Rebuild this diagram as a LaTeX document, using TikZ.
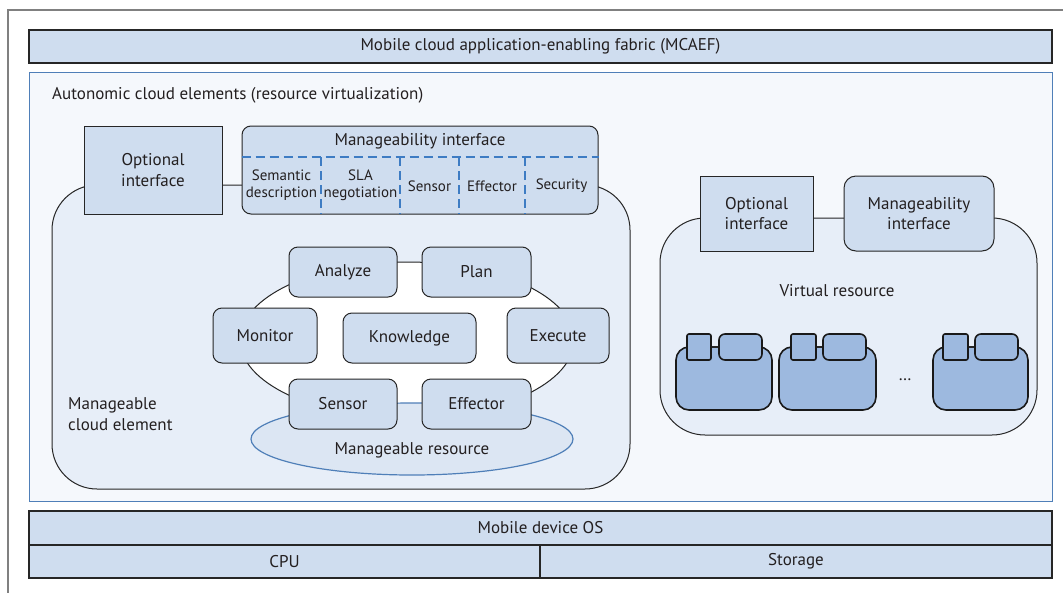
\documentclass[tikz,border=0pt]{standalone}
\usepackage{fontspec}
\setmainfont{PT Sans}
\usetikzlibrary{shapes.geometric}
\definecolor{boxblue}{HTML}{CFDDEF}
\definecolor{panelblue}{HTML}{E7EEF8}
\definecolor{bgblue}{HTML}{F5F8FC}
\definecolor{vmblue}{HTML}{9DB9DF}
\definecolor{dashblue}{HTML}{3E7CC3}
\definecolor{edgeblue}{HTML}{4F7FB8}
\definecolor{resblue}{HTML}{DCE6F3}
\definecolor{txt}{HTML}{231F20}
\tikzset{
  lbl/.style={font=\fontsize{17}{20.5}\selectfont, text=txt, inner sep=0pt, align=center},
  sublbl/.style={font=\fontsize{15}{17}\selectfont, text=txt, inner sep=0pt, align=center},
  box/.style={draw=black!85, line width=1pt, fill=boxblue, inner sep=0pt, align=center,
     font=\fontsize{17}{20.5}\selectfont, text=txt},
  rbox/.style={box, rounded corners=9pt},
  bar/.style={box, line width=1.6pt},
  panel/.style={draw=black!85, line width=1pt, fill=panelblue, rounded corners=45pt, inner sep=0pt},
  vmbody/.style={draw=black!90, line width=1.6pt, fill=vmblue, rounded corners=13pt, inner sep=0pt},
  vmsq/.style={draw=black!90, line width=1.6pt, fill=vmblue, rounded corners=2pt, inner sep=0pt, minimum height=26pt},
  vmtab/.style={draw=black!90, line width=1.6pt, fill=vmblue, rounded corners=6pt, inner sep=0pt, minimum height=26pt, minimum width=43pt},
  dsh/.style={draw=dashblue, line width=2pt, dash pattern=on 9pt off 5pt},
  link/.style={draw=black!85, line width=1pt},
}
\begin{document}
\begin{tikzpicture}[x=1pt,y=-1pt]
\useasboundingbox (0,0) rectangle (1063,592);
\fill[white] (0,0) rectangle (1063,592);
\draw[gray, line width=1.3pt] (8,600) |- (1070,10);

% top bar
\node[bar, minimum width=1023pt, minimum height=33pt] (mcaef) at (540.5,46.5) {Mobile cloud application-enabling fabric (MCAEF)};

% autonomic cloud elements container
\node[draw=edgeblue, line width=1pt, fill=bgblue, minimum width=1023pt, minimum height=429pt, inner sep=0pt] (ace) at (540.5,286.5) {};
\node[lbl, anchor=west] (acet) at (52,95) {Autonomic cloud elements (resource virtualization)};

% manageable cloud element
\node[panel, minimum width=578pt, minimum height=304pt] (mce) at (341,337) {};
\node[box, minimum width=138pt, minimum height=88pt] (optL) at (153,170) {Optional\\interface};
\node[rbox, minimum width=356pt, minimum height=88pt] (manL) at (420,170) {};
\node[lbl] (manLt) at (420,141) {Manageability interface};
\draw[dsh] ([yshift=13pt]manL.west) -- ([yshift=13pt]manL.east);
\foreach \x in {321,400,459,525} \draw[dsh] (\x,157) -- (\x,214);
\node[sublbl] (sd) at (281.5,185) {Semantic\\description};
\node[sublbl] (sla) at (360.5,185) {SLA\\negotiation};
\node[sublbl] (sen) at (429.5,186) {Sensor};
\node[sublbl] (eff) at (492,186) {Effector};
\node[sublbl] (sec) at (561.5,186) {Security};

\node[lbl, anchor=west, align=left] (mcet) at (68,414) {Manageable\\cloud element};

% MAPE-K loop
\node[ellipse, draw=black!85, line width=1pt, fill=white, minimum width=334pt, minimum height=156pt, inner sep=0pt] (loop) at (407,340) {};
\node[ellipse, draw=edgeblue, line width=1.2pt, fill=resblue, minimum width=322pt, minimum height=72pt, inner sep=0pt] (res) at (412,439) {};
\node[lbl] (rest) at (412,450) {Manageable resource};
\node[rbox, minimum width=108pt, minimum height=50pt] (an) at (343,272) {Analyze};
\node[rbox, minimum width=109pt, minimum height=50pt] (pl) at (476.5,272) {Plan};
\node[rbox, minimum width=104pt, minimum height=55pt] (mo) at (265,335.5) {Monitor};
\node[rbox, minimum width=133pt, minimum height=50pt] (kn) at (409.5,338) {Knowledge};
\node[rbox, minimum width=102pt, minimum height=55pt] (ex) at (558,335.5) {Execute};
\node[rbox, minimum width=108pt, minimum height=50pt] (se) at (343,404) {Sensor};
\node[rbox, minimum width=109pt, minimum height=50pt] (ef) at (476.5,404) {Effector};

% virtual resource
\node[panel, minimum width=377pt, minimum height=217pt] (vres) at (848.5,326.5) {};
\node[box, minimum width=113pt, minimum height=75pt] (optR) at (756.5,213.5) {Optional\\interface};
\node[rbox, rounded corners=12pt, minimum width=150pt, minimum height=75pt] (manR) at (919,213.5) {Manageability\\interface};
\node[lbl] (vrt) at (837,291) {Virtual resource};

\node[vmbody, minimum width=96pt, minimum height=63pt] (b1) at (724,378.5) {};
\node[vmsq, minimum width=24pt] (s1) at (699,347) {};
\node[vmtab] (t1) at (740.5,347) {};
\draw[link, line width=1.4pt] (s1.east) -- (t1.west);
\node[vmbody, minimum width=97pt, minimum height=63pt] (b2) at (827.5,378.5) {};
\node[vmsq, minimum width=25pt] (s2) at (803.5,347) {};
\node[vmtab] (t2) at (844.5,347) {};
\draw[link, line width=1.4pt] (s2.east) -- (t2.west);
\node[vmbody, minimum width=95pt, minimum height=63pt] (b3) at (980.5,378.5) {};
\node[vmsq, minimum width=25pt] (s3) at (955.5,347) {};
\node[vmtab] (t3) at (996.5,347) {};
\draw[link, line width=1.4pt] (s3.east) -- (t3.west);
\node[lbl] (dots) at (905,380) {\dots};

% bottom
\node[bar, minimum width=1023pt, minimum height=34pt] (os) at (540.5,528) {Mobile device OS};
\node[bar, minimum width=511pt, minimum height=33pt] (cpu) at (284.5,561.5) {CPU};
\node[bar, minimum width=512pt, minimum height=33pt] (sto) at (796,561.5) {Storage};
\end{tikzpicture}
\end{document}
